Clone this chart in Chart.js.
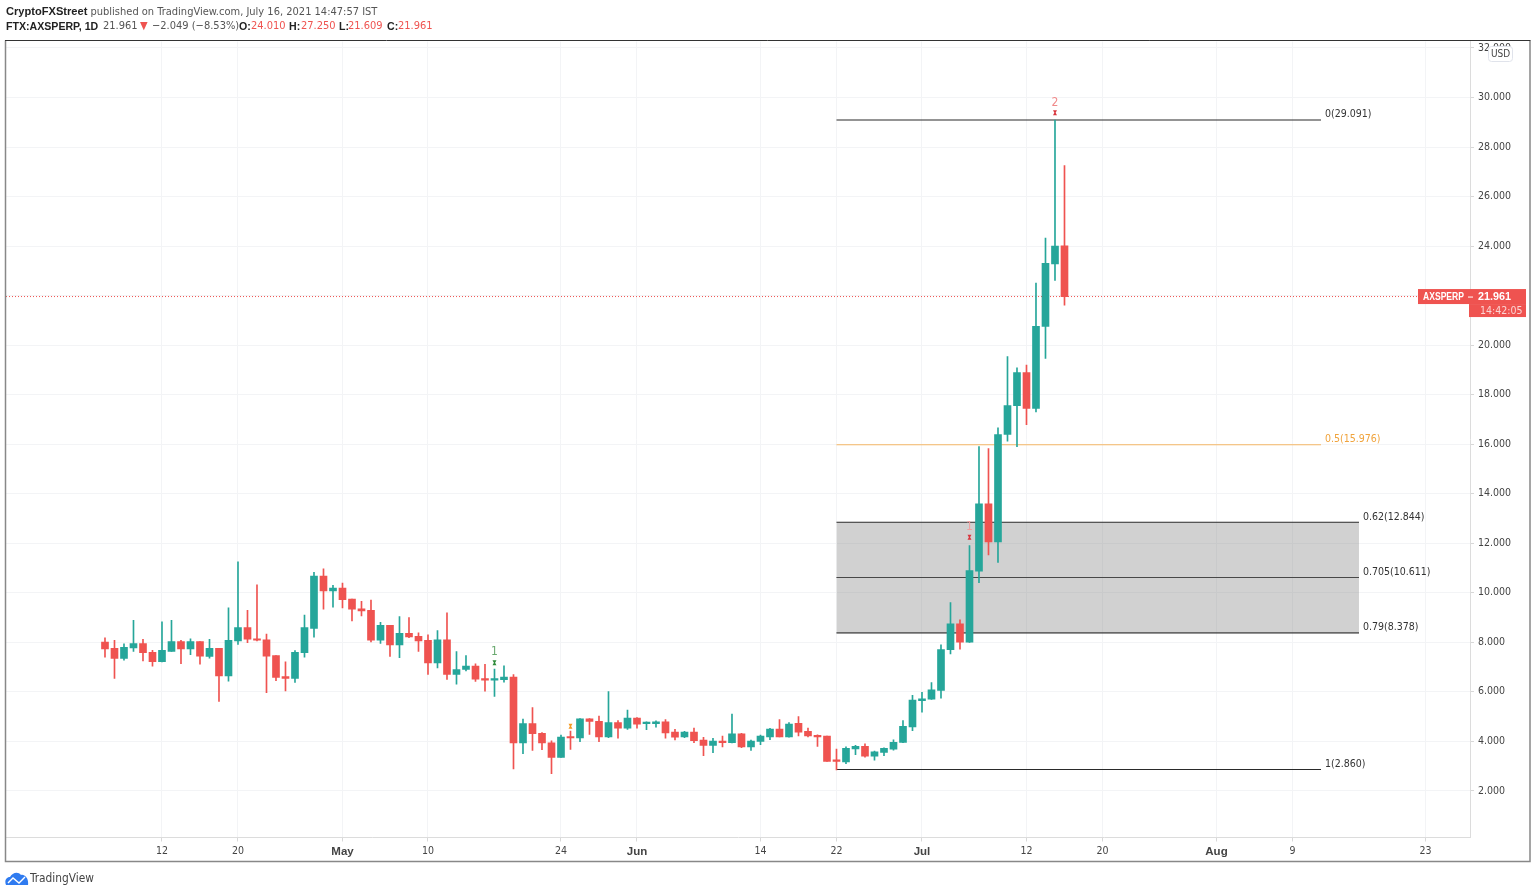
<!DOCTYPE html>
<html><head><meta charset="utf-8">
<style>
html,body{margin:0;padding:0;background:#fff;width:1536px;height:895px;overflow:hidden}
canvas{position:absolute;left:0;top:0}
.t{position:absolute;font:11px "DejaVu Sans Condensed","DejaVu Sans",sans-serif;color:#555;white-space:nowrap;line-height:14px}
.b{font:700 10.6px "Liberation Sans",sans-serif;line-height:14px;color:#222}.r{color:#ef5350}
</style>
<script src="https://cdn.jsdelivr.net/npm/chart.js@4/dist/chart.umd.min.js"></script>
</head><body>
<canvas id="c" width="1536" height="895" style="width:1536px;height:895px"></canvas>
<div class="t" style="left:6px;top:4px"><span class="b" style="font-size:11.1px">CryptoFXStreet</span> published on TradingView.com, July 16, 2021 14:47:57 IST</div>
<div class="t b" style="left:6px;top:19px">FTX:AXSPERP, 1D</div>
<div class="t" style="left:103px;top:19px">21.961</div>
<div class="t r" style="left:140px;top:19px">▼</div>
<div class="t" style="left:152px;top:19px">−2.049 (−8.53%)</div>
<div class="t b" style="left:239px;top:19px">O:</div><div class="t r" style="left:251px;top:19px">24.010</div>
<div class="t b" style="left:289px;top:19px">H:</div><div class="t r" style="left:301px;top:19px">27.250</div>
<div class="t b" style="left:339px;top:19px">L:</div><div class="t r" style="left:348px;top:19px">21.609</div>
<div class="t b" style="left:387px;top:19px">C:</div><div class="t r" style="left:398px;top:19px">21.961</div>
<svg style="position:absolute;left:5px;top:871px" width="24" height="15" viewBox="0 0 24 15">
<path d="M1 14 C-1 9 2 6 5 6 C7 2 13 0 16 4 C20 3 24 8 23 14 Z" fill="#2f7bf0"/>
<path d="M3 12 L8 7 L14 12 L20 6" fill="none" stroke="#fff" stroke-width="1.4"/></svg>
<div class="t" style="left:30px;top:871px;color:#444;font-size:11.8px">TradingView</div>
<script>
const opens=[8.01,7.75,7.35,7.77,7.95,7.59,7.21,7.63,8.03,7.73,
8.03,7.43,7.75,6.64,8.05,8.59,8.14,8.10,7.46,6.61,
6.54,7.58,8.56,10.67,10.07,10.19,9.74,9.35,9.29,8.08,
8.68,7.89,8.36,8.24,8.08,7.16,8.10,6.70,6.90,7.04,
6.53,6.47,6.49,6.59,3.93,4.71,4.32,3.94,3.35,4.17,
4.13,4.91,4.80,4.18,4.75,4.53,4.94,4.71,4.71,4.78,
4.37,4.18,4.37,4.05,3.83,4.01,3.94,4.30,3.77,3.99,
4.18,4.49,4.18,4.72,4.40,4.22,4.21,3.21,3.17,3.69,
3.80,3.40,3.55,3.68,3.95,4.58,5.64,5.70,6.05,7.70,
8.74,8.00,10.87,13.59,12.05,16.39,17.55,18.89,17.44,20.75,
23.28,24.01];
const highs=[8.18,8.08,7.94,8.88,8.12,7.67,8.82,8.88,8.08,8.14,
8.03,8.12,7.75,9.39,11.25,9.29,10.32,8.33,7.46,7.21,
7.66,9.10,10.82,10.96,10.30,10.39,9.74,9.65,9.70,8.80,
8.68,9.04,9.00,8.38,8.30,8.47,9.19,7.62,7.46,7.13,
7.11,6.92,7.05,6.69,4.90,5.36,4.35,4.02,4.25,4.41,
4.92,4.92,5.02,6.01,4.84,5.26,4.96,4.78,4.83,4.88,
4.48,4.40,4.53,4.16,4.12,4.21,5.10,4.32,4.05,4.25,
4.52,4.88,4.75,5.00,4.53,4.26,4.21,3.68,3.77,3.84,
3.90,3.60,3.73,4.06,4.84,5.85,5.98,6.37,7.89,9.60,
8.90,11.90,15.90,15.82,16.66,19.54,19.08,19.19,22.50,24.32,
29.09,27.25];
const lows=[7.40,6.54,7.27,7.63,7.24,7.03,7.20,7.63,7.13,7.50,
7.11,7.36,5.61,6.43,7.91,7.98,8.05,5.96,6.45,6.03,
6.38,7.40,8.20,9.33,9.42,9.39,8.86,9.06,8.01,7.95,
7.43,7.38,8.18,7.63,6.70,6.96,6.50,6.31,6.84,6.42,
6.02,5.81,6.39,2.88,3.50,3.63,3.66,2.69,3.35,3.67,
3.98,4.28,3.98,4.14,4.12,4.48,4.53,4.47,4.57,4.12,
4.05,4.14,3.94,3.42,3.54,3.77,3.93,3.74,3.63,3.86,
4.06,4.18,4.17,4.22,4.18,3.79,3.19,2.84,3.09,3.46,
3.36,3.24,3.42,3.64,3.94,4.43,5.17,5.69,5.74,7.53,
7.72,7.99,10.41,11.53,11.22,16.12,15.90,16.79,17.30,19.46,
22.61,21.609];
const closes=[7.73,7.35,7.79,7.95,7.58,7.21,7.67,8.03,7.73,8.03,
7.44,7.75,6.64,8.08,8.59,8.12,8.08,7.44,6.58,6.54,
7.59,8.59,10.67,10.07,10.19,9.72,9.33,9.26,8.08,8.68,
7.89,8.36,8.21,8.05,7.16,8.10,6.70,6.90,7.04,6.51,
6.47,6.50,6.59,3.93,4.71,4.31,3.93,3.35,4.17,4.13,
4.91,4.80,4.18,4.75,4.53,4.94,4.69,4.73,4.78,4.34,
4.17,4.37,4.02,3.83,4.01,3.94,4.30,3.77,4.01,4.21,
4.49,4.18,4.69,4.37,4.22,4.18,3.19,3.19,3.71,3.80,
3.40,3.57,3.71,3.96,4.60,5.66,5.71,6.08,7.70,8.74,
8.00,10.89,13.59,12.05,16.39,17.56,18.89,17.44,20.76,23.30,
24.00,21.961];
const xTickDays=[6,14,25,34,48,56,69,77,86,97,105,117,125,139];
const xTickLabels=["12","20","May","10","24","Jun","14","22","Jul","12","20","Aug","9","23"];
const monthLabels=["May","Jun","Jul","Aug"];
const yTickValues=[2,4,6,8,10,12,14,16,18,20,22,24,26,28,30,32];
const fibLevels=[0,0.5,0.62,0.705,0.79,1];
const fibPrices=[29.091,15.976,12.844,10.611,8.378,2.86];
const fibStartDay=77;
const fibEndDays=[128,128,132,132,132,128];
const markDays=[41,49,91,100];
const markGlyphPrices=[7.17,4.61,12.24,29.38];
const markTextPrices=[7.60,null,12.65,29.79];
const markTexts=["1","","1","2"];
const markColors=["#2e8b3a","#f59a23","#d9363e","#d9363e"];
const markTextColors=["#6aa96f","","#f2a0a0","#f08a8a"];
const lastPrice=21.961;
const xMin=-10.42,xMax=143.685,yMin=0.113,yMax=32.262;
const UP="#26a69a",DOWN="#ef5350",FONT='"DejaVu Sans Condensed","DejaVu Sans",sans-serif',BOLD='"Liberation Sans",sans-serif';

const colorOf=i=>closes[i]>=opens[i]?UP:DOWN;
const fibColor=i=>fibLevels[i]===0.5?"#f5b766":"#2a2a2a";
const fibSets=fibPrices.map((p,i)=>({type:"line",order:5,data:[{x:fibStartDay,y:p},{x:fibEndDays[i],y:p}],
  borderColor:fibColor(i),borderWidth:1.1,pointRadius:0,tension:0,
  fill:fibLevels[i]===0.62?{target:4,above:"rgba(128,128,128,0.36)",below:"rgba(128,128,128,0.36)"}:false}));
const priceLine={type:"line",order:6,data:[{x:xMin,y:lastPrice},{x:xMax,y:lastPrice}],borderColor:DOWN,borderWidth:1,borderDash:[1,2],pointRadius:0};
const wicks={type:"bar",order:3,grouped:false,barThickness:1,minBarLength:1,
  data:opens.map((_,i)=>({x:i,y:[lows[i],highs[i]]})),backgroundColor:opens.map((_,i)=>colorOf(i))};
const bodies={type:"bar",order:2,grouped:false,barThickness:7,minBarLength:1.5,
  data:opens.map((_,i)=>({x:i,y:[opens[i],closes[i]]})),backgroundColor:opens.map((_,i)=>colorOf(i))};

const decor={id:"decor",afterDatasetsDraw(ch){
  const c=ch.ctx,x=ch.scales.x,y=ch.scales.y;
  c.save();
  c.textBaseline="middle";c.textAlign="left";c.font='10.5px '+FONT;
  fibPrices.forEach((p,i)=>{
    c.fillStyle=fibLevels[i]===0.5?"#f0a33c":"#333";
    c.fillText(fibLevels[i]+"("+p.toFixed(3)+")",x.getPixelForValue(fibEndDays[i])+4,y.getPixelForValue(p)-5.5);
  });
  markDays.forEach((d,i)=>{
    const px=x.getPixelForValue(d),py=y.getPixelForValue(markGlyphPrices[i]);
    c.fillStyle=markColors[i];
    c.beginPath();c.moveTo(px-2,py-2.5);c.lineTo(px+2,py-2.5);c.lineTo(px+.6,py);c.lineTo(px+2,py+2.5);c.lineTo(px-2,py+2.5);c.lineTo(px-.6,py);c.closePath();c.fill();
    if(markTexts[i]){c.fillStyle=markTextColors[i];c.textAlign="center";c.font='12px '+FONT;
      c.fillText(markTexts[i],px,y.getPixelForValue(markTextPrices[i]));c.textAlign="left";c.font='10.5px '+FONT;}
  });
  c.restore();
},afterDraw(ch){
  const c=ch.ctx,y=ch.scales.y,py=y.getPixelForValue(lastPrice);
  c.save();
  c.textBaseline="middle";
  c.fillStyle=DOWN;c.fillRect(1418,py-7.5,108,15);c.fillRect(1469,py+7.5,57,13);
  c.font='700 11px '+BOLD;c.fillStyle="#fff";c.textAlign="left";
  c.fillText("AXSPERP",1423,py+.5,41);c.fillText("21.961",1478,py+.5,33);
  c.fillRect(1468,py,5,1);
  c.font='10.5px '+FONT;c.fillStyle="#fbd5d4";c.fillText("14:42:05",1480,py+14.5);
  c.fillStyle="#fff";c.strokeStyle="#e0e3eb";c.lineWidth=1;
  c.beginPath();c.roundRect(1488.5,46.5,24,15,3);c.fill();c.stroke();
  c.fillStyle="#444";c.font='10px '+FONT;c.textAlign="center";c.fillText("USD",1500.5,54.5);
  c.strokeStyle="#888";c.lineWidth=1.5;
  c.beginPath();c.moveTo(5.5,40.5);c.lineTo(5.5,861.5);c.lineTo(1530,861.5);c.lineTo(1530,40.5);c.stroke();
  c.strokeStyle="#333";c.lineWidth=1;c.beginPath();c.moveTo(5,40.5);c.lineTo(1530.5,40.5);c.stroke();
  c.restore();
}};

new Chart(document.getElementById("c"),{
  type:"bar",
  data:{datasets:[...fibSets,priceLine,wicks,bodies]},
  options:{responsive:false,animation:false,devicePixelRatio:1,
    layout:{padding:{left:6,top:41.5,right:6,bottom:32.5}},
    plugins:{legend:{display:false},tooltip:{enabled:false},title:{display:false}},
    scales:{
      x:{type:"linear",offset:false,min:xMin,max:xMax,
        grid:{offset:false,color:"#f3f4f6",tickColor:"#d8d8d8",tickLength:4,drawTicks:true},
        border:{color:"#dcdcdc"},
        afterBuildTicks:s=>{s.ticks=xTickDays.map(v=>({value:v}));},
        afterFit:s=>{s.height=25;},
        ticks:{autoSkip:false,maxRotation:0,padding:3,color:"#444",
          font:ctx=>ctx.tick&&monthLabels.includes(xTickLabels[xTickDays.indexOf(ctx.tick.value)])?{family:BOLD,size:11.5,weight:"700"}:{family:FONT,size:10.5,weight:"400"},
          callback:v=>xTickLabels[xTickDays.indexOf(v)]}},
      y:{type:"linear",position:"right",min:yMin,max:yMax,
        grid:{color:"#f3f4f6",tickColor:"#d8d8d8",tickLength:4},
        border:{color:"#dcdcdc"},
        afterBuildTicks:s=>{s.ticks=yTickValues.map(v=>({value:v}));},
        afterFit:s=>{s.width=60;},
        ticks:{autoSkip:false,padding:4,color:"#444",font:{family:FONT,size:10.5},callback:v=>v.toFixed(3)}}
    }},
  plugins:[decor]
});
</script>
</body></html>
